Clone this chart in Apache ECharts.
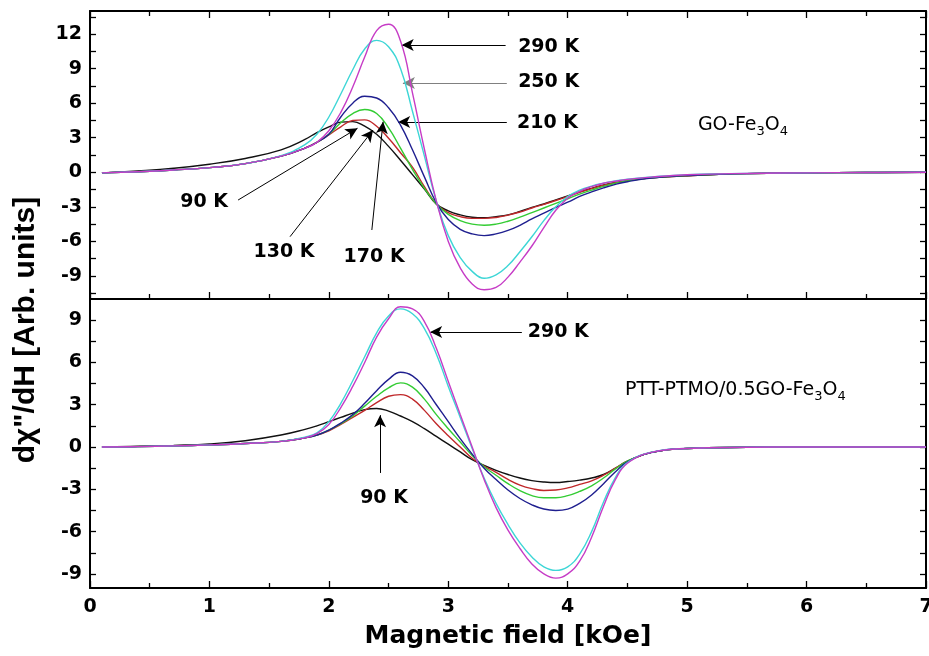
<!DOCTYPE html>
<html>
<head>
<meta charset="utf-8">
<script src="https://cdn.jsdelivr.net/npm/echarts@6.0.0/dist/echarts.min.js"></script>
<style>
html, body { margin: 0; padding: 0; background: #fff; }
#container { width: 929px; height: 656px; }
</style>
</head>
<body>
<div id="container"></div>
<script>
// magnetic field, kOe
var field = [0.1, 0.4, 0.7, 1.0, 1.3, 1.6, 1.8, 1.9, 2.0, 2.1,
             2.2, 2.3, 2.4, 2.5, 2.6, 2.7, 2.8, 2.9, 3.0, 3.1,
             3.2, 3.3, 3.4, 3.5, 3.6, 3.7, 3.8, 3.9, 4.0, 4.1,
             4.2, 4.3, 4.4, 4.5, 4.7, 5.0, 5.5, 6.0, 6.5, 7.0];

// GO-Fe3O4 (top panel)
var go90  = [-0.05, 0.12, 0.35, 0.7, 1.2, 1.95, 2.85, 3.45, 3.95, 4.35,
             4.4, 4.0, 3.3, 2.25, 1.05, -0.2, -1.45, -2.75, -3.35, -3.7,
             -3.9, -3.95, -3.85, -3.7, -3.4, -3.05, -2.75, -2.4, -2.05, -1.7,
             -1.4, -1.1, -0.88, -0.7, -0.48, -0.3, -0.12, -0.05, -0.02, 0];
var go130 = [-0.05, 0.05, 0.2, 0.4, 0.75, 1.4, 2.1, 2.6, 3.25, 3.95,
             4.5, 4.55, 4.0, 2.95, 1.7, 0.45, -1.25, -2.75, -3.5, -3.85,
             -4.0, -4.0, -3.92, -3.72, -3.45, -3.1, -2.78, -2.45, -2.1, -1.75,
             -1.42, -1.12, -0.9, -0.72, -0.48, -0.3, -0.12, -0.05, -0.02, 0];
var go170 = [-0.05, 0.05, 0.2, 0.4, 0.75, 1.4, 2.1, 2.6, 3.3, 4.3,
             5.1, 5.45, 5.1, 3.85, 2.1, 0.25, -1.4, -2.75, -3.65, -4.2,
             -4.5, -4.6, -4.5, -4.25, -3.9, -3.5, -3.1, -2.7, -2.3, -1.9,
             -1.55, -1.22, -0.95, -0.75, -0.48, -0.28, -0.12, -0.05, -0.02, 0];
var go210 = [-0.05, 0.05, 0.2, 0.4, 0.75, 1.4, 2.1, 2.6, 3.3, 4.8,
             6.0, 6.6, 6.45, 5.6, 4.1, 1.95, -0.4, -2.65, -4.1, -4.95,
             -5.35, -5.5, -5.35, -5.05, -4.6, -4.05, -3.55, -3.05, -2.6, -2.1,
             -1.7, -1.35, -1.05, -0.82, -0.5, -0.28, -0.12, -0.05, -0.02, 0];
var go250 = [-0.05, 0.05, 0.2, 0.4, 0.75, 1.45, 2.4, 3.3, 4.8, 6.8,
             8.9, 10.7, 11.45, 10.9, 9.0, 5.3, 1.4, -2.5, -5.5, -7.4,
             -8.6, -9.2, -8.9, -8.1, -6.9, -5.6, -4.2, -3.0, -2.1, -1.55,
             -1.2, -0.95, -0.75, -0.6, -0.4, -0.2, -0.1, -0.05, -0.02, 0];
var go290 = [-0.05, 0.05, 0.2, 0.4, 0.75, 1.4, 2.1, 2.6, 3.6, 5.2,
             7.4, 10.0, 12.3, 12.85, 11.4, 6.9, 2.0, -2.5, -6.0, -8.3,
             -9.7, -10.2, -10.0, -9.1, -7.8, -6.4, -4.8, -3.3, -2.25, -1.65,
             -1.25, -0.95, -0.78, -0.62, -0.42, -0.22, -0.1, -0.05, -0.02, 0];

// PTT-PTMO/0.5GO-Fe3O4 (bottom panel)
var ptt90  = [0, 0.05, 0.12, 0.22, 0.45, 0.85, 1.25, 1.5, 1.8, 2.1,
              2.4, 2.65, 2.73, 2.55, 2.2, 1.8, 1.3, 0.75, 0.2, -0.35,
              -0.9, -1.3, -1.65, -1.95, -2.2, -2.38, -2.48, -2.52, -2.45, -2.35,
              -2.2, -1.95, -1.5, -1.0, -0.38, -0.1, -0.02, 0, 0, 0];
var ptt130 = [0, 0.03, 0.08, 0.15, 0.25, 0.4, 0.65, 0.85, 1.15, 1.6,
              2.1, 2.6, 3.15, 3.6, 3.72, 3.4, 2.6, 1.65, 0.8, 0.0,
              -0.8, -1.35, -1.8, -2.3, -2.7, -2.95, -3.08, -3.05, -2.9, -2.65,
              -2.4, -2.0, -1.5, -1.0, -0.38, -0.1, -0.02, 0, 0, 0];
var ptt170 = [0, 0.03, 0.08, 0.15, 0.25, 0.4, 0.65, 0.85, 1.2, 1.65,
              2.2, 2.9, 3.6, 4.2, 4.55, 4.25, 3.4, 2.3, 1.3, 0.35,
              -0.6, -1.4, -2.0, -2.6, -3.1, -3.45, -3.6, -3.6, -3.45, -3.15,
              -2.75, -2.2, -1.55, -1.0, -0.38, -0.1, -0.02, 0, 0, 0];
var ptt210 = [0, 0.03, 0.08, 0.15, 0.25, 0.4, 0.65, 0.85, 1.2, 1.7,
              2.3, 3.1, 4.0, 4.8, 5.3, 5.05, 4.2, 3.0, 1.8, 0.6,
              -0.5, -1.5, -2.3, -3.05, -3.65, -4.1, -4.4, -4.5, -4.4, -4.0,
              -3.4, -2.6, -1.75, -1.05, -0.4, -0.1, -0.02, 0, 0, 0];
var ptt250 = [0, 0.03, 0.08, 0.15, 0.25, 0.4, 0.7, 1.0, 1.8, 3.1,
              4.7, 6.4, 8.1, 9.3, 9.8, 9.45, 8.4, 6.6, 4.3, 2.1,
              -0.1, -2.2, -4.0, -5.5, -6.8, -7.8, -8.5, -8.75, -8.5, -7.6,
              -6.0, -3.9, -2.15, -1.1, -0.36, -0.1, -0.02, 0, 0, 0];
var ptt290 = [0, 0.03, 0.08, 0.15, 0.25, 0.4, 0.65, 0.95, 1.6, 2.8,
              4.3, 6.0, 7.8, 9.1, 9.95, 9.8, 8.9, 7.0, 4.65, 2.3,
              0.0, -2.3, -4.3, -5.9, -7.2, -8.3, -9.0, -9.3, -9.0, -8.1,
              -6.4, -4.2, -2.3, -1.15, -0.38, -0.1, -0.02, 0, 0, 0];

var temps = ['90 K', '130 K', '170 K', '210 K', '250 K', '290 K'];
var curveColor = ['#111111', '#c0282a', '#33cc33', '#1f1f8f', '#3dd6d6', '#c63cc6'];

// tick values
var topMajor = [-9, -6, -3, 0, 3, 6, 9, 12];
var topAll = [-10.5, -9, -7.5, -6, -4.5, -3, -1.5, 0, 1.5, 3, 4.5, 6, 7.5, 9, 10.5, 12, 13.5];
var botMajor = [-9, -6, -3, 0, 3, 6, 9];
var botAll = [-9, -7.5, -6, -4.5, -3, -1.5, 0, 1.5, 3, 4.5, 6, 7.5, 9];

// arrows [x1, y1, x2, y2] (tail -> head), data units
var topArrows = [[3.48, 11.05, 2.61, 11.05], [3.49, 7.75, 2.62, 7.75], [3.49, 4.36, 2.58, 4.36],
                 [1.24, -2.41, 2.24, 3.82], [1.675, -5.59, 2.37, 3.67], [2.36, -5.01, 2.454, 4.39]];
var topArrowColor = ['#000', '#808080', '#000', '#000', '#000', '#000'];
var botArrows = [[3.616, 8.17, 2.848, 8.16], [2.429, -1.84, 2.429, 2.26]];

// text labels
var topLabels = [
    { text: '290 K', at: [3.585, 10.9], align: 'left' },
    { text: '250 K', at: [3.585, 7.86], align: 'left' },
    { text: '210 K', at: [3.576, 4.3], align: 'left' },
    { text: '90 K', at: [0.955, -2.55], align: 'center' },
    { text: '130 K', at: [1.625, -6.92], align: 'center' },
    { text: '170 K', at: [2.379, -7.33], align: 'center' }
];
var botLabels = [
    { text: '290 K', at: [3.666, 8.16], align: 'left' },
    { text: '90 K', at: [2.462, -3.61], align: 'center' }
];

var dom = document.getElementById('container');
var myChart = echarts.init(dom, null, { renderer: 'canvas' });

var black = '#000';
var tickFont = { fontFamily: 'DejaVu Sans', fontWeight: 'bold', fontSize: 19, color: black };

function xAxisFor(grid, pos, labels, ticks) {
    return {
        type: 'value', gridIndex: grid, position: pos, min: 0, max: 7, interval: 1,
        splitLine: { show: false },
        axisLine: { show: true, onZero: false, lineStyle: { color: black, width: 2 } },
        axisTick: { show: ticks, inside: true, length: 7, lineStyle: { color: black, width: 1.3 } },
        minorTick: { show: ticks, splitNumber: 2, length: 5, lineStyle: { color: black, width: 1.3 } },
        axisLabel: Object.assign({ show: labels, margin: 10 }, tickFont)
    };
}

function yAxisFor(grid, pos, min, max, major, all, labels) {
    return {
        type: 'value', gridIndex: grid, position: pos, min: min, max: max,
        splitLine: { show: false },
        axisLine: { show: true, onZero: false, lineStyle: { color: black, width: 2 } },
        axisTick: { show: true, inside: true, length: 6, customValues: all, lineStyle: { color: black, width: 1.3 } },
        axisLabel: Object.assign({ show: labels, margin: 8, customValues: major }, tickFont)
    };
}

function makeSeries(values, i, grid) {
    return {
        type: 'line',
        name: temps[i],
        xAxisIndex: grid * 2,
        yAxisIndex: grid * 2,
        data: field.map(function (x, k) { return [x, values[k]]; }),
        showSymbol: false,
        smooth: 0.45,
        silent: true,
        z: 2 + i,
        lineStyle: { color: curveColor[i], width: 1.4 },
        itemStyle: { color: curveColor[i] }
    };
}

function arrowLines(list, colors) {
    return {
        silent: true,
        symbol: ['none', 'arrow'],
        symbolSize: [9, 12],
        label: { show: false },
        lineStyle: { color: black, width: 1, type: 'solid' },
        itemStyle: { color: black },
        data: list.map(function (a, k) {
            return [
                { coord: [a[0], a[1]], lineStyle: { color: colors ? colors[k] : black } },
                { coord: [a[2], a[3]], itemStyle: { color: black } }
            ];
        })
    };
}

var topSets = [go90, go130, go170, go210, go250, go290];
var botSets = [ptt90, ptt130, ptt170, ptt210, ptt250, ptt290];
var series = [];
topSets.forEach(function (v, i) { series.push(makeSeries(v, i, 0)); });
botSets.forEach(function (v, i) { series.push(makeSeries(v, i, 1)); });
series[5].markLine = arrowLines(topArrows, topArrowColor);
series[11].markLine = arrowLines(botArrows);

var option = {
    animation: false,
    backgroundColor: '#fff',
    grid: [
        { left: 90, top: 11, width: 836, height: 288, outerBoundsMode: 'none' },
        { left: 90, top: 299, width: 836, height: 289, outerBoundsMode: 'none' }
    ],
    xAxis: [
        xAxisFor(0, 'bottom', false, true),
        xAxisFor(0, 'top', false, true),
        xAxisFor(1, 'bottom', true, true),
        xAxisFor(1, 'top', false, false)
    ],
    yAxis: [
        yAxisFor(0, 'left', -11, 14, topMajor, topAll, true),
        yAxisFor(0, 'right', -11, 14, topMajor, topAll, false),
        yAxisFor(1, 'left', -10, 10.5, botMajor, botAll, true),
        yAxisFor(1, 'right', -10, 10.5, botMajor, botAll, false)
    ],
    series: series
};

myChart.setOption(option);

// annotation texts placed in data coordinates
var labelFont = 'bold 19px "DejaVu Sans"';
var graphics = [];
function addLabels(list, seriesIndex) {
    list.forEach(function (l) {
        var p = myChart.convertToPixel({ seriesIndex: seriesIndex }, l.at);
        graphics.push({
            type: 'text', x: p[0], y: p[1], z: 100,
            style: { text: l.text, font: labelFont, fill: black, align: l.align, verticalAlign: 'middle' }
        });
    });
}
addLabels(topLabels, 0);
addLabels(botLabels, 6);

var chemRich = {
    n: { fontFamily: 'DejaVu Sans', fontSize: 19, lineHeight: 26, verticalAlign: 'middle', fill: black },
    s: { fontFamily: 'DejaVu Sans', fontSize: 13, lineHeight: 13, verticalAlign: 'bottom', fill: black }
};
var p1 = myChart.convertToPixel({ seriesIndex: 0 }, [5.09, 4.36]);
graphics.push({
    type: 'text', x: p1[0], y: p1[1] + 3, z: 100,
    style: { text: '{n|GO-Fe}{s|3}{n|O}{s|4}', rich: chemRich, align: 'left', verticalAlign: 'middle' }
});
var p2 = myChart.convertToPixel({ seriesIndex: 6 }, [4.48, 4.25]);
graphics.push({
    type: 'text', x: p2[0], y: p2[1] + 3, z: 100,
    style: { text: '{n|PTT-PTMO/0.5GO-Fe}{s|3}{n|O}{s|4}', rich: chemRich, align: 'left', verticalAlign: 'middle' }
});

// axis titles
graphics.push({
    type: 'text', x: 508, y: 636, z: 100,
    style: { text: 'Magnetic field [kOe]', font: 'bold 25px "DejaVu Sans"', fill: black, align: 'center', verticalAlign: 'middle' }
});
graphics.push({
    type: 'text', x: 26, y: 330, rotation: Math.PI / 2, z: 100,
    style: { text: 'd\u03c7"/dH [Arb. units]', font: 'bold 30px "Liberation Sans"', fill: black, align: 'center', verticalAlign: 'middle' }
});

myChart.setOption({ graphic: graphics });

window.addEventListener('resize', myChart.resize);
</script>
</body>
</html>
